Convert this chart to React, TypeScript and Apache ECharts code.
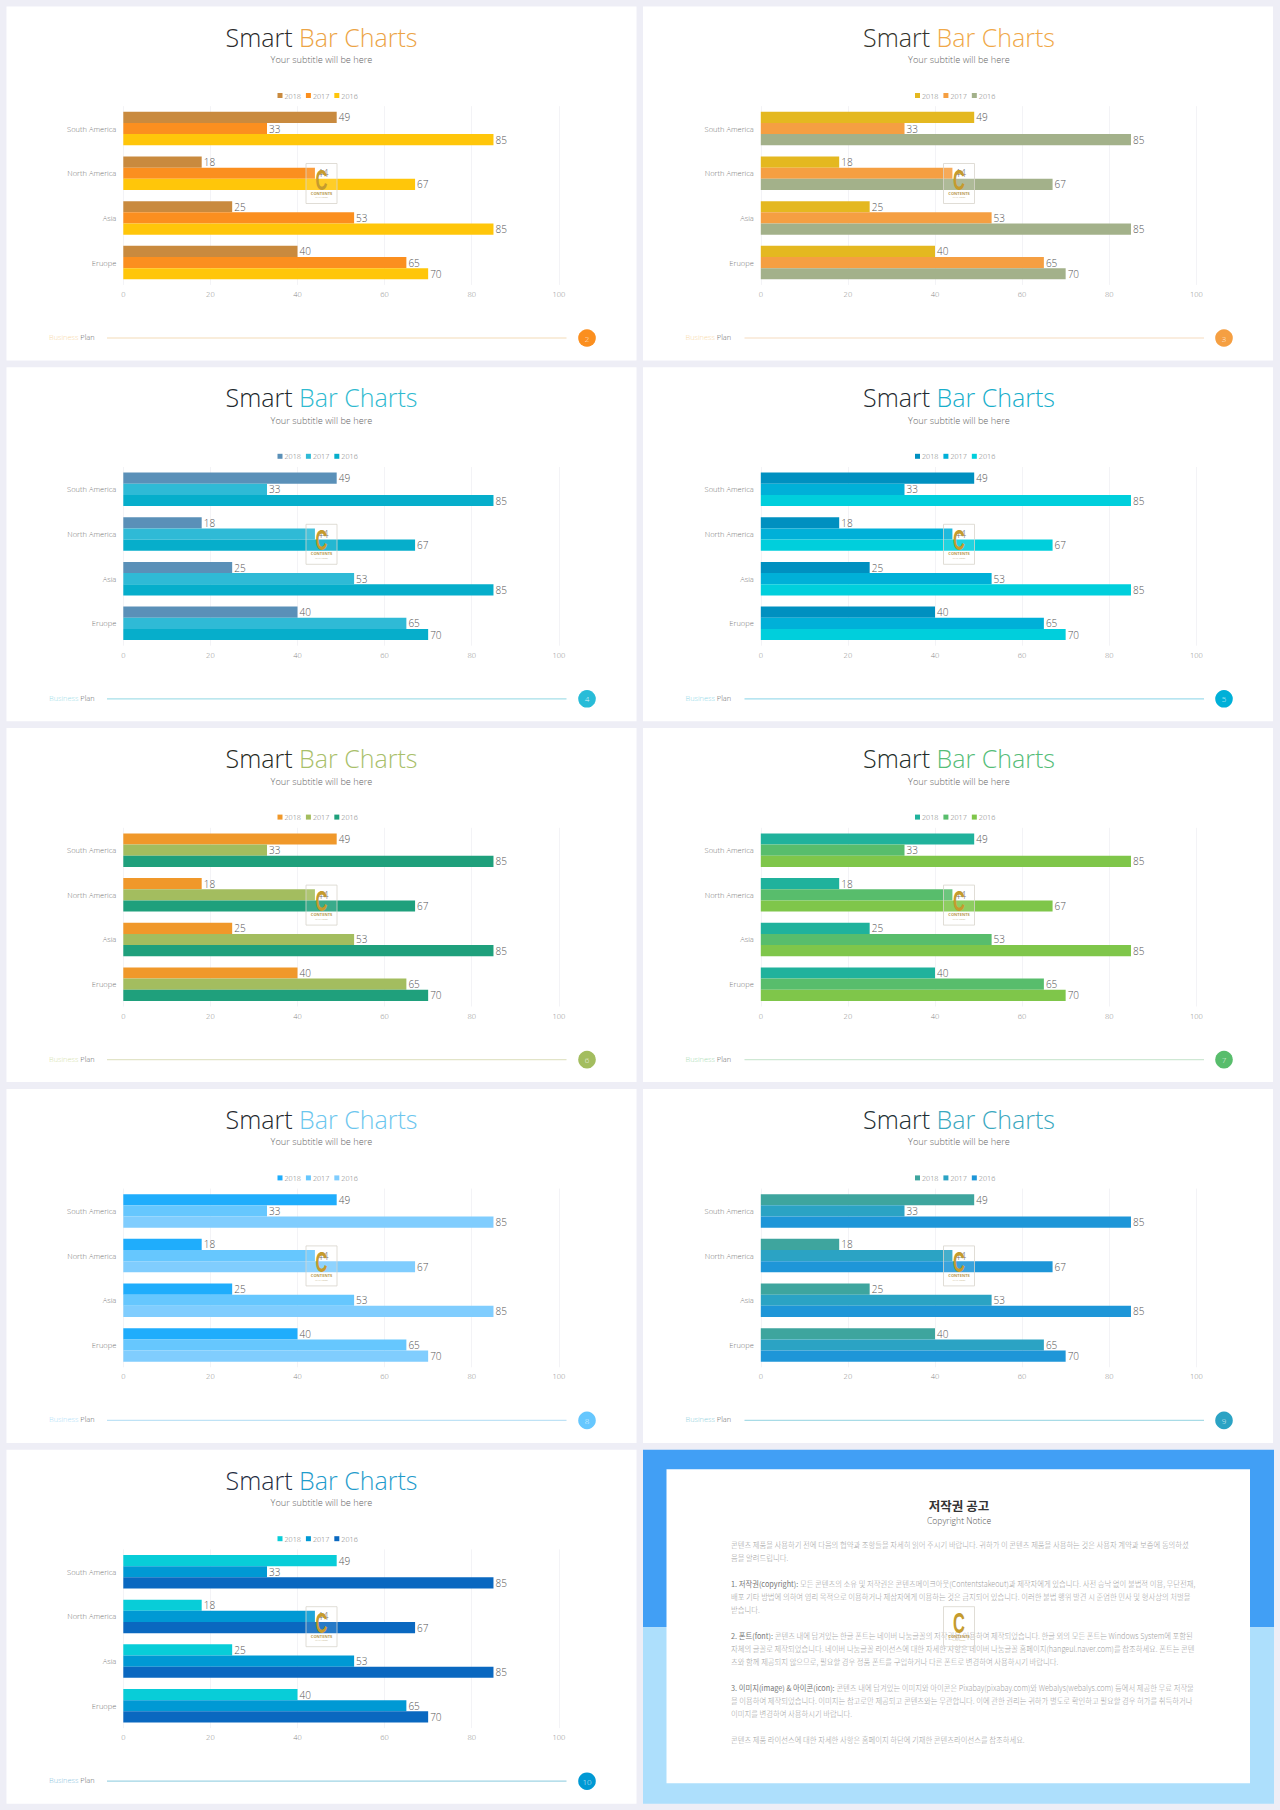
import React, { useEffect, useRef } from "react";
import * as echarts from "echarts";

const categories = ["South America", "North America", "Asia", "Eruope"];
const values2018 = [49, 18, 25, 40];
const values2017 = [33, 44, 53, 65];
const values2016 = [85, 67, 85, 70];
const years = ["2018", "2017", "2016"];
const pageNumbers = ["2", "3", "4", "5", "6", "7", "8", "9", "10"];
const titleDark = ["#2a2a2a", "#32322a", "#20282c", "#1e2a30", "#262a22", "#222c28", "#24292e", "#202d32", "#1f2d42"];
const titleAccent = ["#eca445", "#f0a848", "#2fbad0", "#17aecb", "#a9c06a", "#55bd78", "#6cc6ee", "#3aa8c0", "#1f9ccc"];
const colors2018 = ["#c98a3e", "#e4b820", "#5a90b8", "#0090c0", "#f0982a", "#20b29c", "#1fadfc", "#3ea59e", "#08cdd8"];
const colors2017 = ["#fb8f1f", "#f59f42", "#2fbad6", "#00b0d8", "#a3bd5f", "#58bd6c", "#66c7fe", "#2ba3c4", "#0099d4"];
const colors2016 = ["#ffc60a", "#a3b18a", "#06aecb", "#00cfdc", "#1fa07c", "#7fc64a", "#80cdfe", "#1e96d8", "#0a68c0"];
const circleColors = ["#fb8f1f", "#f59f42", "#28bcd8", "#00b0d8", "#a3bd5f", "#58bd6c", "#66c7fe", "#2ba3c4", "#0099d4"];
const lineColors = ["#f3dcb8", "#f5dcc0", "#a6dfe9", "#9fdcec", "#e2e4c8", "#cfe8d4", "#bfe2f5", "#a8dbe6", "#9fd4e4"];
const businessColors = ["#f8d9a8", "#f8d9a8", "#a0dde8", "#90d8e8", "#d6dfae", "#a9dcb4", "#b0e0f8", "#90d0dc", "#8cc4e0"];

const noticeLines = [
  "콘텐츠 제품을 사용하기 전에 다음의 협약과 조항들을 자세히 읽어 주시기 바랍니다. 귀하가 이 콘텐츠 제품을 사용하는 것은 사용자 계약과 보증에 동의하셨",
  "음을 알려드립니다.",
  "{b|1. 저작권(copyright):} 모든 콘텐츠의 소유 및 저작권은 콘텐츠메이크아웃(Contentstakeout)과 제작자에게 있습니다. 사전 승낙 없이 불법적 이용, 무단전재,",
  "배포 기타 방법에 의하여 영리 목적으로 이용하거나 제삼자에게 이용하는 것은 금지되어 있습니다. 이러한 불법 행위 발견 시 준엄한 민사 및 형사상의 처벌을",
  "받습니다.",
  "{b|2. 폰트(font):} 콘텐츠 내에 담겨있는 한글 폰트는 네이버 나눔글꼴의 저작권을 이용하여 제작되었습니다. 한글 외의 모든 폰트는 Windows System에 포함된",
  "자체의 글꼴로 제작되었습니다. 네이버 나눔글꼴 라이선스에 대한 자세한 사항은 네이버 나눔글꼴 홈페이지(hangeul.naver.com)를 참조하세요. 폰트는 콘텐",
  "츠와 함께 제공되지 않으므로, 필요할 경우 정품 폰트를 구입하거나 다른 폰트로 변경하여 사용하시기 바랍니다.",
  "{b|3. 이미지(image) & 아이콘(icon):} 콘텐츠 내에 담겨있는 이미지와 아이콘은 Pixabay(pixabay.com)와 Webalys(webalys.com) 등에서 제공한 무료 저작물",
  "을 이용하여 제작되었습니다. 이미지는 참고로만 제공되고 콘텐츠와는 무관합니다. 이에 관한 권리는 귀하가 별도로 확인하고 필요할 경우 허가를 취득하거나",
  "이미지를 변경하여 사용하시기 바랍니다.",
  "콘텐츠 제품 라이선스에 대한 자세한 사항은 홈페이지 하단에 기재한 콘텐츠라이선스를 참조하세요.",
];
const noticeOffsets = [95, 108, 134, 147, 160, 186, 199, 212, 238, 251, 264, 290];

const FONT = '"Open Sans", "Noto Sans", sans-serif';
const KR = '"Noto Sans CJK KR", sans-serif';
const COL_X = [6.5, 643];
const COL_SHIFT = [0, 1];
const TILE_W = 630;
const TILE_H = 354;
const ROW_Y = (r: number) => 6.5 + r * 360.8;

function watermark(cx: number, cy: number) {
  return [
    { type: "rect", z: 50, shape: { x: cx - 15.5, y: cy - 20, width: 31, height: 40 }, style: { fill: "rgba(255,255,255,0.12)", stroke: "#d8d4cc", lineWidth: 0.8 } },
    { type: "text", z: 51, x: cx, y: cy - 4.5, scaleX: 0.55, style: { text: "C", fill: "#c59b2e", font: 'bold 30px "Liberation Sans", sans-serif', textAlign: "center", textVerticalAlign: "middle" } },
    { type: "text", z: 51, x: cx, y: cy + 9.5, style: { text: "CONTENTS", fill: "#b89a50", font: "bold 4px " + FONT, textAlign: "center", textVerticalAlign: "middle" } },
    { type: "text", z: 51, x: cx, y: cy + 13.5, style: { text: "MAIL LOOP", fill: "#c8b890", font: "2.5px " + FONT, textAlign: "center", textVerticalAlign: "middle" } },
  ];
}

function buildOption() {
  const grids: any[] = [];
  const xAxes: any[] = [];
  const yAxes: any[] = [];
  const legends: any[] = [];
  const series: any[] = [];
  const graphics: any[] = [];

  pageNumbers.forEach((pg, i) => {
    const col = i % 2;
    const row = Math.floor(i / 2);
    const tile = COL_X[col];
    const tx = tile + COL_SHIFT[col];
    const ty = ROW_Y(row);
    const cx = tx + 315;
    graphics.push({ type: "rect", z: 0, shape: { x: tile, y: ty, width: TILE_W, height: TILE_H }, style: { fill: "#ffffff" } });
    graphics.push({
      type: "text", z: 1, x: cx, y: ty + 30,
      style: {
        text: "{a|Smart }{b|Bar Charts}", textAlign: "center", textVerticalAlign: "middle",
        rich: {
          a: { fontFamily: FONT, fontWeight: 300, fontSize: 25, fill: titleDark[i], color: titleDark[i] },
          b: { fontFamily: FONT, fontWeight: 300, fontSize: 25, fill: titleAccent[i], color: titleAccent[i] },
        },
      },
    });
    graphics.push({ type: "text", z: 1, x: cx, y: ty + 53, style: { text: "Your subtitle will be here", fill: "#666", font: "300 9.2px " + FONT, textAlign: "center", textVerticalAlign: "middle" } });
    graphics.push({
      type: "text", z: 1, x: tile + 42.5, y: ty + 330.5,
      style: {
        text: "{a|Business }{b|Plan}", textAlign: "left", textVerticalAlign: "middle",
        rich: {
          a: { fontFamily: FONT, fontWeight: 300, fontSize: 7.4, fill: businessColors[i], color: businessColors[i] },
          b: { fontFamily: FONT, fontWeight: 300, fontSize: 7.4, fill: "#666", color: "#666" },
        },
      },
    });
    graphics.push({ type: "line", z: 1, shape: { x1: tx + 100.5, y1: ty + 331.5, x2: tx + 560, y2: ty + 331.5 }, style: { stroke: lineColors[i], lineWidth: 1.2 } });
    graphics.push({ type: "circle", z: 1, shape: { cx: tile + 580.5 + COL_SHIFT[col] * 0.5, cy: ty + 331.5, r: 8.8 }, style: { fill: circleColors[i] } });
    graphics.push({ type: "text", z: 2, x: tile + 580.5 + COL_SHIFT[col] * 0.5, y: ty + 331.5, style: { text: pg, fill: "rgba(255,255,255,0.85)", font: "300 8px " + FONT, textAlign: "center", textVerticalAlign: "middle" } });
    graphics.push(...watermark(cx, ty + 177));

    grids.push({ left: tx + 116.8, top: ty + 99.7, width: 435.5, height: 178.7, containLabel: false });
    xAxes.push({
      gridIndex: i, type: "value", min: 0, max: 100, interval: 20, position: "bottom",
      axisLine: { show: false, onZero: false }, axisTick: { show: false },
      axisLabel: { fontSize: 7.5, color: "#888", fontFamily: FONT, fontWeight: 300, margin: 5 },
      splitLine: { show: true, lineStyle: { color: "#f3f3f6", width: 1 } },
    });
    yAxes.push({
      gridIndex: i, type: "category", data: categories, inverse: true,
      axisLine: { show: false }, axisTick: { show: false },
      axisLabel: { fontSize: 7.5, color: "#777", fontFamily: FONT, fontWeight: 300, margin: 7, padding: [0, 0, 3, 0] },
      splitLine: { show: false },
    });
    const cols = [colors2018[i], colors2017[i], colors2016[i]];
    legends.push({
      left: tx + 271, top: ty + 85.5, icon: "rect", itemWidth: 5, itemHeight: 5, itemGap: 5, padding: 0,
      selectedMode: false,
      textStyle: { fontSize: 7.2, color: "#777", fontFamily: FONT, fontWeight: 300, padding: [0, 0, 0, -3] },
      data: years.map((y, k) => ({ name: y, itemStyle: { color: cols[k] } })),
    });
    [values2018, values2017, values2016].forEach((vals, k) => {
      series.push({
        type: "bar", name: years[k], xAxisIndex: i, yAxisIndex: i, data: vals,
        barCategoryGap: "25%", barGap: "0%",
        itemStyle: { color: cols[k] },
        label: { show: true, position: "right", distance: 2, fontSize: 10, color: "#555", fontFamily: FONT, fontWeight: 300 },
      });
    });
  });

  const nx = COL_X[1];
  const ny = ROW_Y(4);
  graphics.push({ type: "rect", z: 0, shape: { x: nx, y: ny, width: TILE_W + 1, height: 177.5 }, style: { fill: "#419ff5" } });
  graphics.push({ type: "rect", z: 0, shape: { x: nx, y: ny + 177.5, width: TILE_W + 1, height: 176.5 }, style: { fill: "#addffc" } });
  graphics.push({ type: "rect", z: 1, shape: { x: nx + 23.5, y: ny + 19.5, width: 583.5, height: 314 }, style: { fill: "#ffffff" } });
  graphics.push({ type: "text", z: 2, x: nx + 316, y: ny + 56, style: { text: "저작권 공고", fill: "#333", font: "bold 12.5px " + KR, textAlign: "center", textVerticalAlign: "middle" } });
  graphics.push({ type: "text", z: 2, x: nx + 316, y: ny + 71, style: { text: "Copyright Notice", fill: "#555", font: "300 8.6px " + FONT, textAlign: "center", textVerticalAlign: "middle" } });
  noticeLines.forEach((line, k) => {
    graphics.push({
      type: "text", z: 2, x: nx + 88, y: ny + noticeOffsets[k], scaleX: 0.915,
      style: {
        text: line, textAlign: "left", textVerticalAlign: "middle",
        fontFamily: KR, fontSize: 8, fill: "#a0a0a0", fontWeight: 300,
        rich: {
          b: { fontFamily: KR, fontSize: 8, fontWeight: 400, fill: "#777", color: "#777" },
        },
      },
    });
  });
  graphics.push(...watermark(nx + 316, ny + 177));

  return {
    animation: false,
    backgroundColor: "#eeeef6",
    grid: grids,
    xAxis: xAxes,
    yAxis: yAxes,
    legend: legends,
    series,
    graphic: { elements: graphics },
  };
}

export default function App() {
  const ref = useRef<HTMLDivElement>(null);
  useEffect(() => {
    const chart = echarts.init(ref.current!, undefined, { renderer: "svg" });
    chart.setOption(buildOption() as any);
    return () => chart.dispose();
  }, []);
  return <div ref={ref} style={{ position: "absolute", left: 0, top: 0, width: 1280, height: 1810 }} />;
}
